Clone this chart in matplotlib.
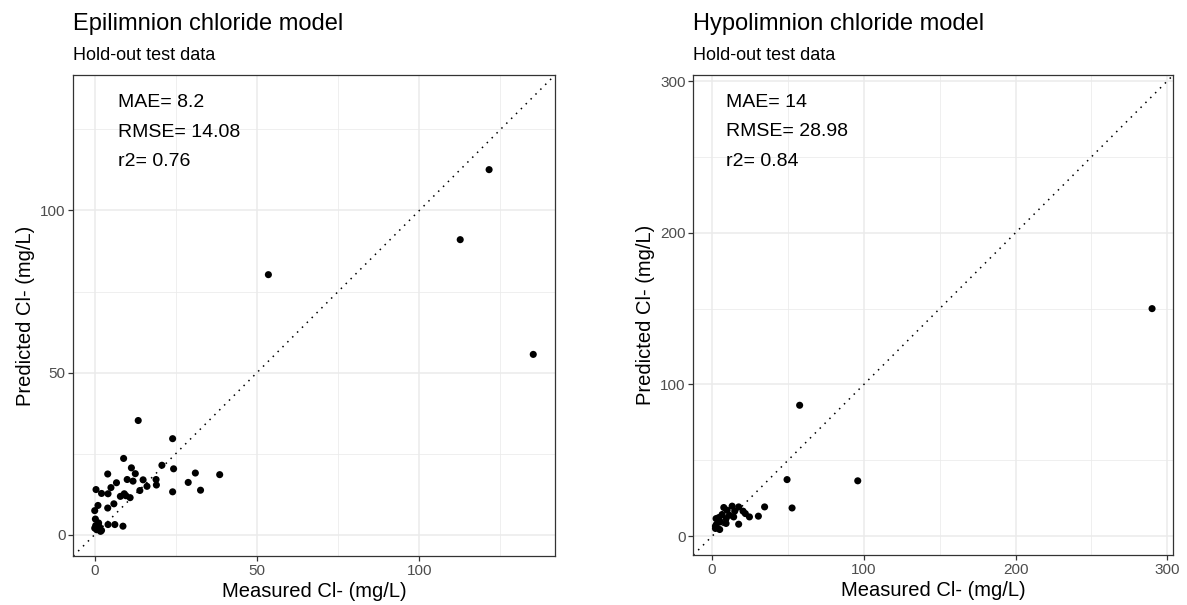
import numpy as np
import matplotlib.pyplot as plt

plt.rcParams['font.family'] = ['Liberation Sans', 'DejaVu Sans']

# Epilimnion hold-out test data
epi_measured = [13.4, 24.0, 8.9, 20.7, 24.3, 31.0, 38.5, 4.0, 11.3, 12.5,
                10.0, 11.8, 14.9, 16.1, 18.9, 19.0, 28.8, 32.6, 24.0, 13.9,
                6.7, 5.0, 0.4, 2.1, 4.1, 7.9, 9.1, 9.6, 10.9, 4.0,
                5.9, 1.0, 0.0, 0.2, 0.3, 1.5, 0.6, 2.1, 4.1, 6.2,
                8.7, 0.0, 1.2, 1.8, 53.5, 112.6, 121.5, 135.1]
epi_predicted = [35.2, 29.6, 23.5, 21.4, 20.3, 19.0, 18.5, 18.7, 20.6, 18.8,
                 17.0, 16.5, 16.9, 14.9, 17.0, 15.3, 16.1, 13.7, 13.2, 13.6,
                 16.0, 14.5, 13.9, 12.7, 12.6, 11.8, 12.6, 12.0, 11.4, 8.2,
                 9.5, 9.0, 7.4, 4.8, 2.8, 2.3, 1.5, 1.3, 3.1, 3.1,
                 2.6, 2.0, 3.6, 1.0, 80.2, 91.0, 112.6, 55.6]

# Hypolimnion hold-out test data
hypo_measured = [57.7, 49.4, 52.7, 34.6, 30.5, 24.6, 17.5, 9.2, 5.0, 2.2,
                 2.6, 7.7, 9.9, 13.2, 14.9, 17.5, 14.2, 11.4, 6.6, 4.4,
                 20.4, 21.9, 9.2, 5.5, 2.2, 2.8, 96.0, 290.0]
hypo_predicted = [86.3, 37.3, 18.6, 19.3, 13.2, 12.7, 7.9, 8.4, 4.4, 6.6,
                  11.6, 18.9, 17.1, 19.8, 16.5, 19.3, 12.7, 13.8, 14.3, 12.3,
                  16.5, 14.9, 11.6, 9.4, 5.1, 7.7, 36.5, 150.0]

epi_stats = ['MAE= 8.2', 'RMSE= 14.08', 'r2= 0.76']
hypo_stats = ['MAE= 14', 'RMSE= 28.98', 'r2= 0.84']

W, H = 1187, 605
fig = plt.figure(figsize=(W / 100, H / 100), dpi=100)


def make_panel(rect_px, meas, pred, lims, major, minor, title, stats, text_x):
    left, top, width, height = rect_px
    ax = fig.add_axes([left / W, (H - top - height) / H, width / W, height / H])
    ax.set_xlim(lims)
    ax.set_ylim(lims)
    ax.set_xticks(major)
    ax.set_yticks(major)
    ax.set_xticks(minor, minor=True)
    ax.set_yticks(minor, minor=True)
    ax.grid(True, which='major', color='#EBEBEB', linewidth=1.1)
    ax.grid(True, which='minor', color='#EBEBEB', linewidth=0.55)
    ax.set_axisbelow(True)
    ax.tick_params(which='minor', length=0)
    ax.tick_params(which='major', length=3.5, width=0.9, color='#333333',
                   labelsize=11, labelcolor='#4D4D4D', pad=2)
    for sp in ax.spines.values():
        sp.set_color('#333333')
        sp.set_linewidth(0.9)

    ax.plot(lims, lims, color='black', linestyle=(0, (1, 3.5)), linewidth=1.1)
    ax.scatter(meas, pred, s=26, color='black', edgecolors='none', zorder=3)

    ax.set_xlabel('Measured Cl- (mg/L)', fontsize=14.5, labelpad=3)
    ax.set_ylabel('Predicted Cl- (mg/L)', fontsize=14.5, labelpad=4)

    for i, s in enumerate(stats):
        ax.text(text_x, 0.933 - i * 0.061, s, transform=ax.transAxes,
                fontsize=14, ha='left', va='baseline')

    fig.text(left / W, (H - 30) / H, title, fontsize=17, ha='left', va='baseline')
    fig.text(left / W, (H - 60) / H, 'Hold-out test data', fontsize=13,
             ha='left', va='baseline')
    return ax


make_panel((73.3, 75, 481.7, 481), epi_measured, epi_predicted,
           (-6.6, 141.8), [0, 50, 100], [25, 75, 125],
           'Epilimnion chloride model', epi_stats, 0.092)

make_panel((693.3, 75, 480, 480), hypo_measured, hypo_predicted,
           (-12.4, 304.0), [0, 100, 200, 300], [50, 150, 250],
           'Hypolimnion chloride model', hypo_stats, 0.069)

fig.savefig('out.png', dpi=100)
